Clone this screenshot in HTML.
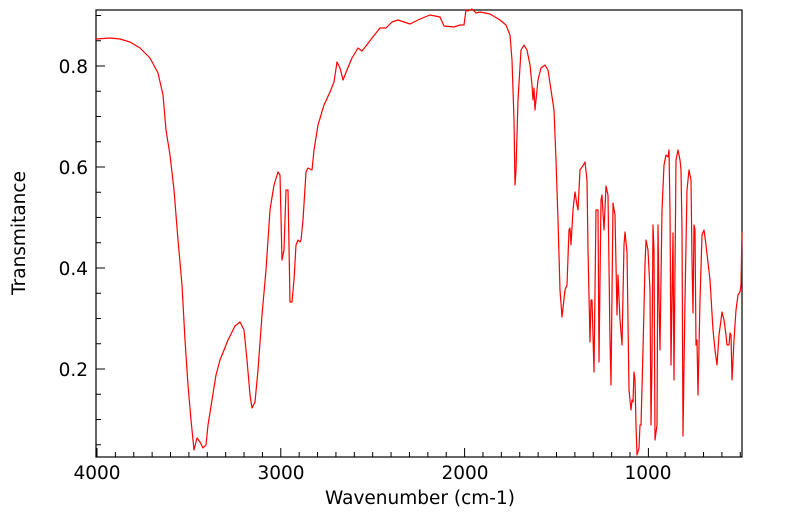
<!DOCTYPE html>
<html><head><meta charset="utf-8"><style>
html,body{margin:0;padding:0;background:#fff;}
svg{display:block;font-family:"DejaVu Sans","Liberation Sans",sans-serif;}
</style></head><body>
<svg id="s" width="799" height="516" viewBox="0 0 799 516" xmlns="http://www.w3.org/2000/svg">
<rect x="96" y="10" width="646" height="447" fill="none" stroke="#000" stroke-width="1.2"/>
<g id="ticks" stroke="#000" stroke-width="1"></g>
<g font-size="18.5" fill="#000">
<text x="88" y="73" text-anchor="end">0.8</text>
<text x="88" y="174" text-anchor="end">0.6</text>
<text x="88" y="275" text-anchor="end">0.4</text>
<text x="88" y="376" text-anchor="end">0.2</text>
<text x="97" y="479" text-anchor="middle">4000</text>
<text x="281" y="479" text-anchor="middle">3000</text>
<text x="465" y="479" text-anchor="middle">2000</text>
<text x="648" y="479" text-anchor="middle">1000</text>
<text x="420" y="504" text-anchor="middle">Wavenumber (cm-1)</text>
<text transform="translate(25,233) rotate(-90)" text-anchor="middle">Transmitance</text>
</g>
<polyline fill="none" stroke="#ff0000" stroke-width="1.2" stroke-linejoin="round" points="96,39 110,38 120,39 130,42 140,48 150,58 158,73 163,95 166,130 170,155 174,190 178,240 182,285 185,340 188,385 191,420 194,450 197,438 200,442 203,448 206,445 208,425 212,400 216,375 220,360 228,340 235,326 240,322 244,330 247,360 250,395 252,408 255,402 258,370 262,315 266,270 270,210 274,185 278,172 280,175 282,260 284,250 286,190 288,190 290,302 292,302 294,280 296,245 298,240 300,242 301,240 303,220 306,172 308,168 312,170 314,150 318,125 324,105 330,92 334,82 337,62 340,68 343,80 347,70 352,58 358,48 362,51 366,46 372,38 380,28 386,28 392,22 398,20 404,22 410,24 420,19 430,15 440,17 444,26 454,27 460,25 464,25 466,10 468,11 472,9 476,13 480,12 490,14 500,20 506,25 510,35 512,60 514,120 515,185 516,170 518,100 521,50 524,45 527,50 530,65 532,85 533,100 534,88 535,110 536,100 538,80 541,68 545,65 548,70 551,90 554,110 556,160 558,220 560,290 562,317 565,290 567,285 569,230 570,228 571,245 573,210 575,192 577,205 578,210 580,170 582,167 584,164 585,162 587,180 588,250 590,342 591,300 592,300 594,372 596,210 598,210 599,362 601,200 602,195 604,230 606,186 608,195 610,340 611,385 613,203 615,215 617,315 618,275 620,320 622,345 624,245 625,232 627,252 629,390 631,410 632,400 633,402 634,372 635,380 636,425 637,455 639,448 640,425 641,425 643,350 645,265 646,240 648,250 650,290 651,425 652,360 653,225 654,250 655,440 657,425 658,225 659,300 660,350 662,210 664,165 666,155 668,157 669,150 670,210 671,365 673,233 674,380 676,160 678,150 680,160 681,170 682,230 683,436 685,300 687,190 689,170 691,180 692,260 693,313 694,225 695,230 696,345 697,340 698,395 700,300 702,235 704,230 706,245 710,280 713,330 715,350 717,365 719,335 721,320 722,312 724,320 726,335 727,345 729,345 730,333 731,335 732,380 734,340 736,310 738,295 740,292 741,285 742,232"/>
</svg>
<script>
var g=document.getElementById('ticks'),h='';
for(var k=0;k<=35;k++){var x=97+k*18.38,L=(k%10==0)?9:5;h+='<line x1="'+x+'" y1="457" x2="'+x+'" y2="'+(457-L)+'"/>';}
for(var j=-2;j<=15;j++){var y=66+j*25.25;if(y<11||y>456)continue;var L=(j%4==0)?9:5;h+='<line x1="96" y1="'+y+'" x2="'+(96+L)+'" y2="'+y+'"/>';}
g.innerHTML=h;
</script>
</body></html>
